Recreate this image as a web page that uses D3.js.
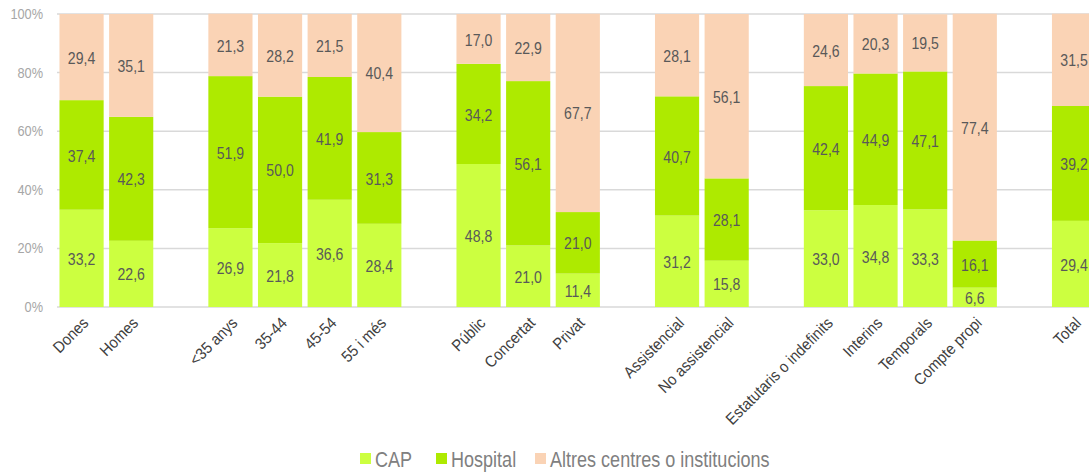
<!DOCTYPE html>
<html>
<head>
<meta charset="utf-8">
<script src="https://cdn.jsdelivr.net/npm/d3@7"></script>
<style>
  body { margin: 0; background: #fff; }
  text { font-family: "Liberation Sans Narrow", "Arial Narrow", "Liberation Sans", sans-serif; }
</style>
</head>
<body>
<script>
// categories; blank strings are the gaps between groups
var categories = ["Dones", "Homes", "", "<35 anys", "35-44", "45-54", "55 i més", " ",
  "Públic", "Concertat", "Privat", "  ", "Assistencial", "No assistencial", "   ",
  "Estatutaris o indefinits", "Interins", "Temporals", "Compte propi", "    ", "Total"];
var realCategories = ["Dones", "Homes", "<35 anys", "35-44", "45-54", "55 i més",
  "Públic", "Concertat", "Privat", "Assistencial", "No assistencial",
  "Estatutaris o indefinits", "Interins", "Temporals", "Compte propi", "Total"];

var seriesNames = ["CAP", "Hospital", "Altres centres o institucions"];
var capValues = [33.2, 22.6, 26.9, 21.8, 36.6, 28.4, 48.8, 21.0, 11.4, 31.2, 15.8, 33.0, 34.8, 33.3, 6.6, 29.4];
var hospitalValues = [37.4, 42.3, 51.9, 50.0, 41.9, 31.3, 34.2, 56.1, 21.0, 40.7, 28.1, 42.4, 44.9, 47.1, 16.1, 39.2];
var altresValues = [29.4, 35.1, 21.3, 28.2, 21.5, 40.4, 17.0, 22.9, 67.7, 28.1, 56.1, 24.6, 20.3, 19.5, 77.4, 31.5];
var yTicks = [0, 20, 40, 60, 80, 100];
var colors = ["#ccff40", "#aeea00", "#fad3b5"];

var width = 1089, height = 472;
var svg = d3.select("body").append("svg").attr("width", width).attr("height", height);

var x = d3.scaleBand().domain(categories).range([57, 1098.6]).paddingInner(0.11).paddingOuter(0.05);
var y = d3.scaleLinear().domain([0, 100]).range([307, 14]);

// narrow look: squeeze text horizontally
var squeeze = 0.88;

// gridlines
svg.selectAll("line.grid")
  .data(yTicks)
  .enter().append("line")
  .attr("class", "grid")
  .attr("x1", 57).attr("x2", width)
  .attr("y1", function(d){ return y(d); })
  .attr("y2", function(d){ return y(d); })
  .attr("stroke", "#d9d9d9")
  .attr("stroke-width", 1.5);

svg.selectAll("text.ytick")
  .data(yTicks)
  .enter().append("text")
  .attr("class", "ytick")
  .attr("transform", function(d){ return "translate(43," + y(d) + ") scale(" + squeeze + ",1)"; })
  .attr("dy", "0.35em")
  .attr("text-anchor", "end")
  .attr("font-size", 14.5)
  .attr("fill", "#a6a6a6")
  .text(function(d){ return d + "%"; });

// stacked data
var rows = realCategories.map(function(c, i){
  return { cat: c, s0: capValues[i], s1: hospitalValues[i], s2: altresValues[i] };
});
var stack = d3.stack().keys(["s0", "s1", "s2"])(rows);

var fmt = function(v){ return v.toFixed(1).replace(".", ","); };

stack.forEach(function(layer, li){
  svg.selectAll("rect.s" + li)
    .data(layer)
    .enter().append("rect")
    .attr("class", "s" + li)
    .attr("x", function(d){ return x(d.data.cat); })
    .attr("width", x.bandwidth())
    .attr("y", function(d){ return y(d[1]); })
    .attr("height", function(d){ return y(d[0]) - y(d[1]); })
    .attr("fill", colors[li]);

  svg.selectAll("text.l" + li)
    .data(layer)
    .enter().append("text")
    .attr("class", "l" + li)
    .attr("transform", function(d){
      var cx = x(d.data.cat) + x.bandwidth() / 2;
      var cy = (y(d[0]) + y(d[1])) / 2 + 1;
      return "translate(" + cx + "," + cy + ") scale(" + squeeze + ",1)";
    })
    .attr("dy", "0.35em")
    .attr("text-anchor", "middle")
    .attr("font-size", 16)
    .attr("fill", "#595959")
    .text(function(d){ return fmt(d[1] - d[0]); });
});

// x labels
svg.selectAll("text.xlab")
  .data(realCategories)
  .enter().append("text")
  .attr("class", "xlab")
  .attr("transform", function(d){
    return "translate(" + (x(d) + x.bandwidth() / 2 + 4) + ",320) rotate(-45) scale(0.92,1)";
  })
  .attr("text-anchor", "end")
  .attr("dy", "0.35em")
  .attr("font-size", 16)
  .attr("fill", "#404040")
  .text(function(d){ return d; });

// legend
var legendX = [360, 436, 535];
var legend = svg.selectAll("g.legend")
  .data(seriesNames)
  .enter().append("g")
  .attr("class", "legend")
  .attr("transform", function(d, i){ return "translate(" + legendX[i] + ",453)"; });
legend.append("rect")
  .attr("width", 11).attr("height", 11)
  .attr("fill", function(d, i){ return colors[i]; });
legend.append("text")
  .attr("transform", "translate(15,6) scale(0.82,1)")
  .attr("dy", "0.35em")
  .attr("font-size", 22)
  .attr("fill", "#808080")
  .text(function(d){ return d; });
</script>
</body>
</html>
